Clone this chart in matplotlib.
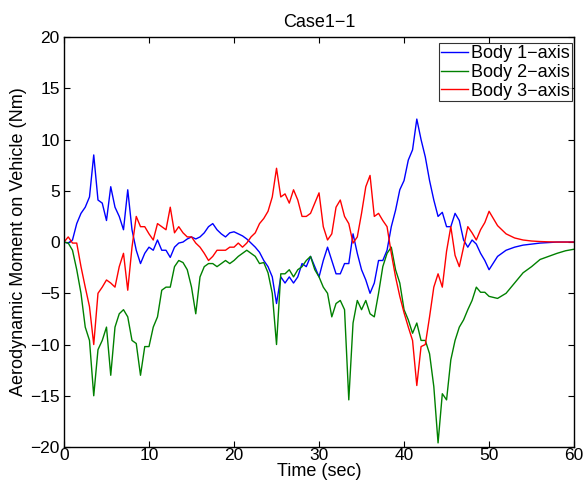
import numpy as np
import matplotlib
matplotlib.use('Agg')
import matplotlib.pyplot as plt

plt.rcParams['font.family'] = ['Liberation Sans', 'DejaVu Sans']

# Muestras, cada 0.5 s entre 0 y 50 s
t = np.arange(0, 50.5, 0.5)

body1 = [0.0, -0.1, 0.2, 1.8, 2.8, 3.4, 4.4, 8.5, 4.1, 3.8,
         2.1, 5.4, 3.4, 2.5, 1.2, 5.1, 1.2, -0.8, -2.1, -1.1,
         -0.5, -0.8, 0.2, -0.8, -0.8, -1.5, -0.5, -0.1, 0.0, 0.3,
         0.5, 0.3, 0.5, 0.9, 1.5, 1.8, 1.2, 0.8, 0.5, 0.9,
         1.0, 0.8, 0.6, 0.3, -0.1, -0.5, -1.0, -1.8, -2.4, -3.4,
         -6.0, -3.4, -4.0, -3.4, -4.0, -3.4, -2.1, -2.4, -1.4, -2.4,
         -3.4, -1.8, -0.5, -1.8, -3.1, -3.1, -2.1, -2.1, 0.8, -1.1,
         -2.7, -3.7, -5.0, -4.0, -1.8, -1.8, -0.8, 1.5, 3.1, 5.1,
         6.0, 8.0, 9.0, 12.0, 10.0, 8.3, 6.0, 4.1, 2.5, 2.9,
         1.5, 1.5, 2.8, 2.1, 0.2, -0.5, 0.2, -0.2, -1.1, -1.8,
         -2.7]

body2 = [0.0, -0.1, -0.8, -2.7, -5.0, -8.3, -9.6, -15.0, -10.5, -9.6,
         -8.3, -13.0, -8.3, -7.0, -6.6, -7.3, -9.6, -9.9, -13.0, -10.2,
         -10.2, -8.3, -7.3, -4.7, -4.4, -4.4, -2.4, -1.8, -2.0, -2.7,
         -4.4, -7.0, -3.4, -2.4, -2.1, -2.1, -2.4, -2.1, -1.8, -2.1,
         -1.8, -1.4, -1.1, -0.8, -1.1, -1.4, -2.1, -2.0, -3.0, -5.0,
         -10.0, -3.1, -3.1, -2.7, -3.4, -2.7, -2.4, -1.8, -1.4, -2.7,
         -3.4, -4.4, -5.0, -7.3, -6.0, -5.7, -6.6, -15.4, -7.9, -5.7,
         -6.6, -5.7, -7.0, -7.3, -5.0, -2.4, -1.1, -0.5, -2.7, -4.0,
         -6.6, -7.6, -8.9, -7.9, -9.6, -9.6, -10.9, -14.1, -19.6, -14.8,
         -15.4, -11.5, -9.6, -8.3, -7.6, -6.6, -5.7, -4.4, -4.9, -4.9,
         -5.3]

body3 = [0.0, 0.5, -0.1, -0.1, -2.4, -4.4, -6.3, -10.0, -5.0, -4.4,
         -3.7, -4.0, -4.4, -2.4, -1.1, -4.7, -0.5, 2.5, 1.5, 1.5,
         0.8, 0.2, 1.8, 1.5, 1.2, 3.4, 0.9, 1.5, 0.9, 0.5,
         0.5, -0.1, -0.5, -1.1, -1.8, -1.4, -0.8, -0.8, -0.8, -0.5,
         -0.5, -0.1, -0.5, -0.1, 0.5, 0.9, 1.8, 2.3, 3.0, 4.4,
         7.2, 4.4, 4.7, 3.8, 5.1, 4.1, 2.5, 2.5, 2.8, 3.8,
         4.8, 1.5, 0.2, 0.8, 3.4, 4.1, 2.5, 1.8, -0.1, 0.5,
         2.8, 5.4, 6.5, 2.5, 2.8, 2.1, 1.5, -1.1, -3.4, -5.3,
         -6.9, -8.3, -9.6, -14.0, -10.2, -10.0, -7.3, -4.4, -3.1, -4.4,
         -0.9, 1.5, -1.3, -2.4, -0.5, 1.5, 0.9, 0.2, 1.2, 1.9,
         3.0]

# Tramo final (respuesta suave despues de 50 s)
t_tail = [51, 52, 53, 54, 55, 56, 57, 58, 59, 60]
body1_tail = [-1.4, -0.8, -0.5, -0.3, -0.2, -0.1, -0.05, 0.0, 0.0, 0.0]
body2_tail = [-5.5, -5.0, -4.0, -3.0, -2.4, -1.7, -1.4, -1.1, -0.85, -0.7]
body3_tail = [1.6, 0.8, 0.4, 0.2, 0.1, 0.05, 0.02, 0.0, 0.0, 0.0]

t_all = np.concatenate([t, t_tail])

fig = plt.figure(figsize=(5.87, 4.88), dpi=100)
ax = fig.add_axes([0.109, 0.084, 0.869, 0.840])

ax.plot(t_all, body1 + body1_tail, color='#0000ff', lw=1.0, label='Body 1\u2212axis')
ax.plot(t_all, body2 + body2_tail, color='#008000', lw=1.0, label='Body 2\u2212axis')
ax.plot(t_all, body3 + body3_tail, color='#ff0000', lw=1.0, label='Body 3\u2212axis')

ax.set_xlim(0, 60)
ax.set_ylim(-20, 20)
ax.set_xticks(np.arange(0, 61, 10))
ax.set_yticks(np.arange(-20, 21, 5))
ax.set_yticklabels([str(v).replace('-', '\u2212') for v in range(-20, 21, 5)])
ax.tick_params(direction='in', top=True, right=True, labelsize=12.5, length=4)
ax.tick_params(axis='x', pad=1)
ax.tick_params(axis='y', pad=3)
for s in ax.spines.values():
    s.set_linewidth(1.0)

ax.set_xlabel('Time (sec)', fontsize=13, labelpad=0)
ax.set_ylabel('Aerodynamic Moment on Vehicle (Nm)', fontsize=13, labelpad=2)
ax.set_title('Case1\u22121', fontsize=13, pad=7)

leg = ax.legend(loc='upper right', bbox_to_anchor=(0.996, 0.985), fontsize=13,
                frameon=True, fancybox=False, edgecolor='black',
                handlelength=1.5, handletextpad=0.2, borderpad=0.1,
                labelspacing=0.1, borderaxespad=0.0)
leg.get_frame().set_linewidth(0.8)

fig.savefig('out.png', dpi=100)
